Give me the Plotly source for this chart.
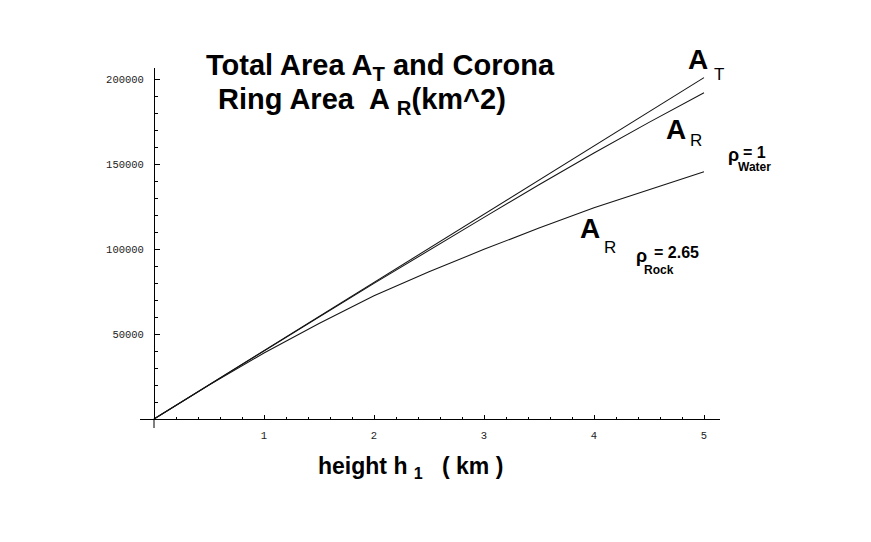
import plotly.graph_objects as go

# ---- data ----
height_km = [0, 0.5, 1, 1.5, 2, 2.5, 3, 3.5, 4, 4.5, 5]
total_area_AT = [0, 20100, 40200, 60300, 80300, 100400, 120600, 140600, 160500, 180500, 200800]
ring_area_water = [0, 20080, 40100, 60000, 79800, 99400, 118600, 137800, 156500, 174500, 191900]
ring_area_rock = [0, 19900, 38800, 56200, 72500, 86600, 99800, 112300, 124200, 135000, 145500]

x_ticks = [1, 2, 3, 4, 5]
x_tick_text = ["1", "2", "3", "4", "5"]
y_ticks = [50000, 100000, 150000, 200000]
y_tick_text = ["50000", "100000", "150000", "200000"]

# ---- layout geometry (screen pixels) ----
W, H = 871, 542
OFF = 8  # page body margin
L, R, T, B = 140, 720, 68, 419  # plot area edges on screen


def px(x):
    return (x - L) / (R - L)


def py(y):
    return (B - y) / (B - T)


fig = go.Figure()
for ys in (total_area_AT, ring_area_water, ring_area_rock):
    fig.add_trace(go.Scatter(x=height_km, y=ys, mode="lines",
                             line=dict(color="#151515", width=1.05),
                             showlegend=False, hoverinfo="skip"))

y_pos = px(154)
tickfont = dict(family="Liberation Mono", size=10.5, color="#222")
fig.update_layout(
    width=W, height=H,
    margin=dict(l=L - OFF, r=W - R + OFF, t=T - OFF, b=H - B + OFF, pad=0),
    paper_bgcolor="white", plot_bgcolor="white",
    xaxis=dict(range=[(L - 154) / 110, (R - 154) / 110],
               showgrid=False, zeroline=False, showline=True,
               linecolor="black", linewidth=1,
               tickmode="array", tickvals=x_ticks, ticktext=x_tick_text,
               ticks="inside", ticklen=4, tickcolor="black", tickwidth=1,
               minor=dict(dtick=0.2, tick0=0, ticks="inside", ticklen=2.5,
                          tickcolor="black", tickwidth=1),
               ticklabelstandoff=6, tickfont=tickfont),
    yaxis=dict(range=[0, (B - T) / 85 * 50000],
               anchor="free", position=y_pos,
               showgrid=False, zeroline=False, showline=True,
               linecolor="black", linewidth=1,
               tickmode="array", tickvals=y_ticks, ticktext=y_tick_text,
               ticks="inside", ticklen=4.5, tickcolor="black", tickwidth=1,
               minor=dict(dtick=10000, tick0=0, ticks="inside", ticklen=3,
                          tickcolor="black", tickwidth=1),
               ticklabelstandoff=8, tickfont=tickfont),
    font=dict(family="Liberation Sans", color="black"),
)

# small extension of y axis below origin
fig.add_shape(type="line", xref="x", yref="paper", x0=0, x1=0,
              y0=0, y1=py(428), line=dict(color="black", width=1))


def ann(text, x, y, size, xanchor="left", yanchor="middle", bold=True):
    t = f"<b>{text}</b>" if bold else text
    fig.add_annotation(text=t, xref="paper", yref="paper", x=px(x), y=py(y),
                       xanchor=xanchor, yanchor=yanchor, showarrow=False,
                       font=dict(family="Liberation Sans", size=size, color="black"))


# title lines
ann("Total Area A<sub>T</sub> and Corona", 204, 67, 29)
ann("Ring Area  A <sub>R</sub>(km^2)", 216, 101, 29)

# axis title
ann("height h <sub>1</sub>   ( km )", 316, 467, 23)

# curve labels
ann("A", 686, 60, 28)
ann("T", 712, 74, 17, bold=False)
ann("A", 664, 129, 28)
ann("R", 688, 140, 17, bold=False)
ann("ρ", 726, 155, 18)
ann("= 1", 741, 152, 16)
ann("Water", 736, 167, 12)

ann("A", 578, 228, 28)
ann("R", 602, 247, 17, bold=False)
ann("ρ", 634, 256, 18)
ann("= 2.65", 652, 252, 16)
ann("Rock", 642, 270, 12)

fig.write_html("out.html")
